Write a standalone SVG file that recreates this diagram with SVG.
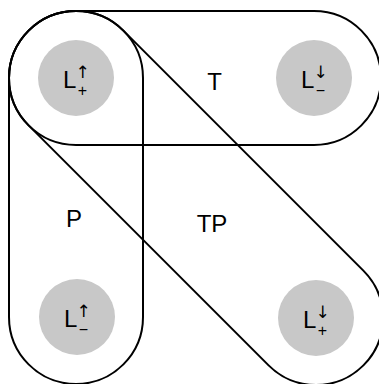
<svg xmlns="http://www.w3.org/2000/svg" width="379" height="384" viewBox="0 0 379 384">
<style>
.st{fill:none;stroke:#000;stroke-width:2}
.c{fill:#c8c8c8}
text{font-family:"Liberation Sans",Arial,sans-serif;fill:#000}
.big{font-size:24px}
.lab{font-size:24px;text-anchor:middle}
.ar{font-family:"DejaVu Sans",sans-serif;font-size:17px;text-anchor:middle}
.sb{font-size:16px;text-anchor:middle}
</style>
<g id="connectors">
<rect id="T" class="st" x="9" y="11" width="372" height="134" rx="67" ry="67"/>
<rect id="P" class="st" x="9" y="11" width="134" height="373" rx="67" ry="67"/>
<rect id="TP" class="st" x="-40.7" y="131" width="473.4" height="134" rx="67" ry="67" transform="rotate(45 196 198)"/>
</g>
<g id="node-Lpu">
<circle class="c" cx="76" cy="78" r="38"/>
<text class="big" x="63" y="88">L<tspan class="ar" x="82.5" y="78">↑</tspan><tspan class="sb" x="82.5" y="96">+</tspan></text>
</g>
<g id="node-Lmd">
<circle class="c" cx="314" cy="78" r="38"/>
<text class="big" x="301" y="88">L<tspan class="ar" x="320.5" y="78">↓</tspan><tspan class="sb" x="320.5" y="96">−</tspan></text>
</g>
<g id="node-Lmu">
<circle class="c" cx="77" cy="317" r="38"/>
<text class="big" x="64" y="327">L<tspan class="ar" x="83.5" y="317">↑</tspan><tspan class="sb" x="83.5" y="335">−</tspan></text>
</g>
<g id="node-Lpd">
<circle class="c" cx="316" cy="318" r="38"/>
<text class="big" x="303" y="328">L<tspan class="ar" x="322.5" y="318">↓</tspan><tspan class="sb" x="322.5" y="336">+</tspan></text>
</g>
<g id="labels">
<text class="lab" x="214.5" y="90">T</text>
<text class="lab" x="74" y="227">P</text>
<text class="lab" x="212" y="232">TP</text>
</g>
</svg>
